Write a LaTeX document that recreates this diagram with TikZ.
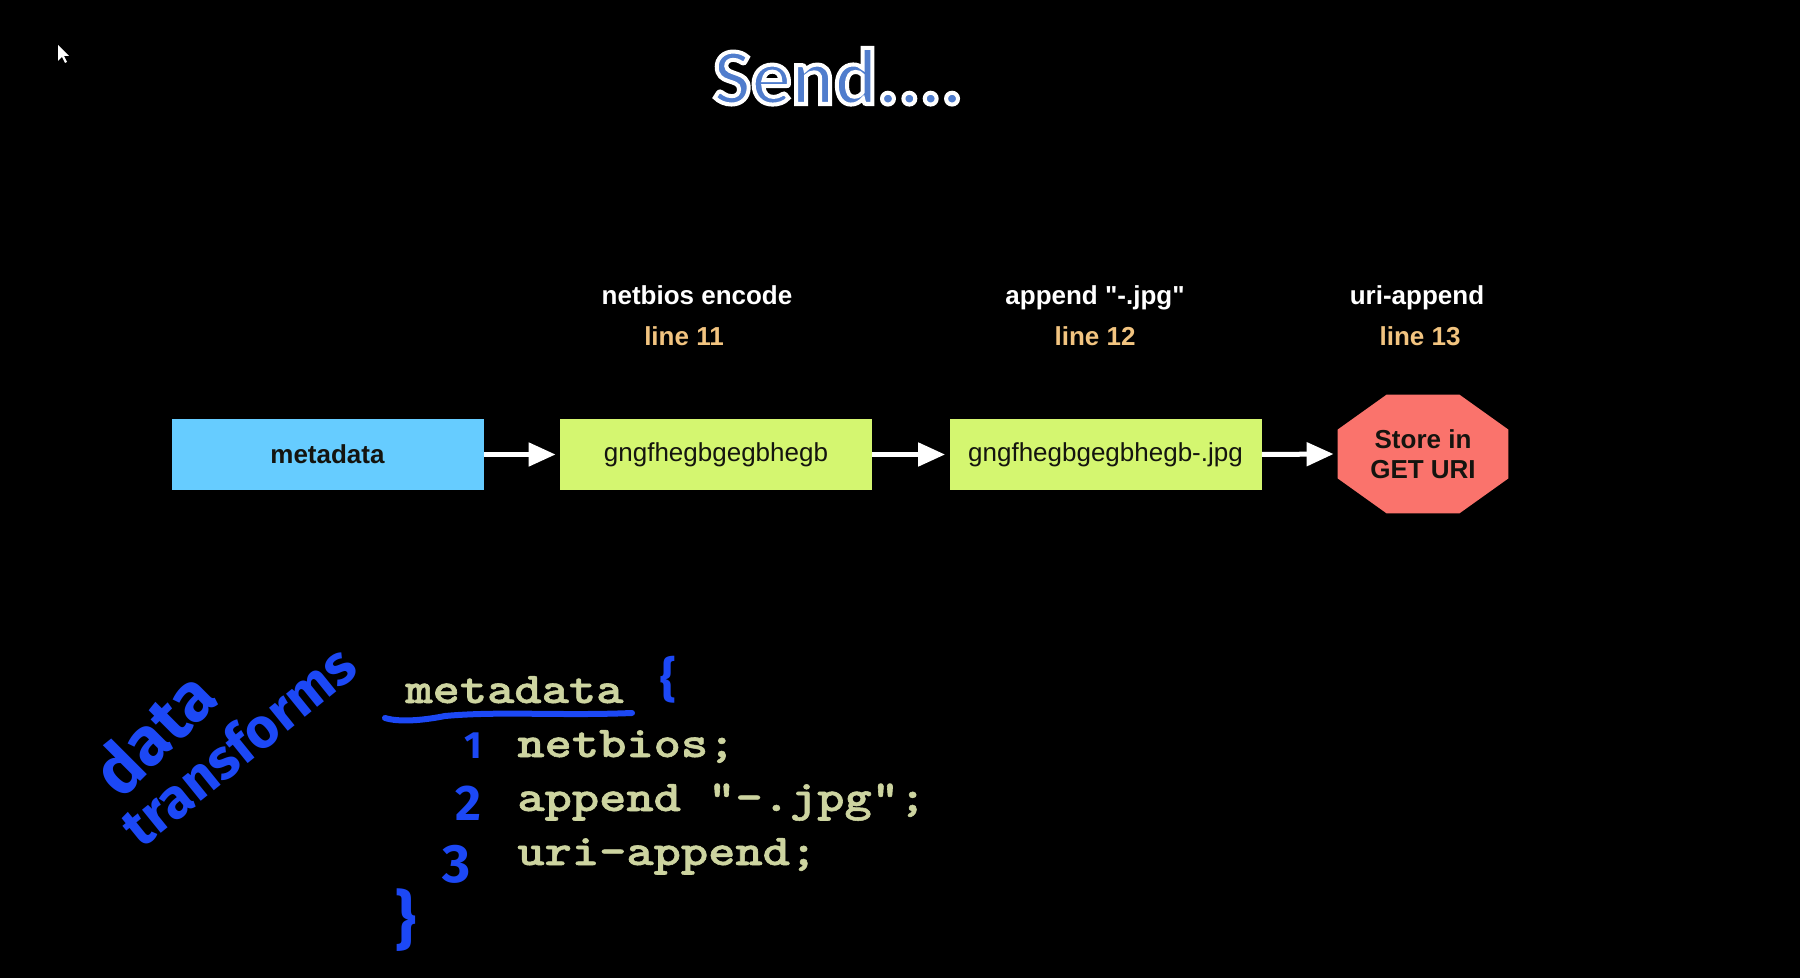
\documentclass[tikz,border=0pt]{standalone}
\usepackage{fontspec}
\usepackage{graphicx}
\setmainfont{Liberation Sans}[Ligatures=TeXOff]
\newfontfamily\titlefont{Carlito}
\newfontfamily\handfont{Fira Sans}
\newfontfamily\codefont{lmmonolt10-bold.otf}[FakeBold=1.2]
\usetikzlibrary{arrows.meta,calc}

\definecolor{metablue}{RGB}{102,204,255}
\definecolor{lime}{RGB}{212,246,112}
\definecolor{salmon}{RGB}{250,115,108}
\definecolor{lineorange}{RGB}{242,196,128}
\definecolor{codecol}{RGB}{205,212,160}
\definecolor{inkblue}{RGB}{28,72,245}
\definecolor{titleblue}{RGB}{80,125,205}
\definecolor{boxtext}{RGB}{20,20,15}

\newcommand\codewide[1]{\scalebox{1.18}[1]{#1}}
% filled glyphs with a white stroked rim
\newcommand\rimmed[1]{\special{pdf:literal direct 2 Tr 1 1 1 RG 2 w}#1\special{pdf:literal direct 0 Tr}}

\begin{document}
\begin{tikzpicture}[x=0.5pt,y=-0.5pt,
  stepbox/.style={rectangle, minimum width=156pt, minimum height=35.5pt,
    inner sep=0pt, text=boxtext, font=\fontsize{13}{15}\selectfont},
  flow/.style={draw=white, line width=2.5pt,
    -{Triangle[length=13.5pt,width=11.5pt]}, shorten >=2pt},
  heading/.style={anchor=base, inner sep=0pt, text=white,
    font=\fontsize{13}{15}\selectfont\bfseries},
  lineref/.style={anchor=base, inner sep=0pt, text=lineorange,
    font=\fontsize{13}{15}\selectfont\bfseries},
  codeline/.style={anchor=base west, inner sep=0pt, text=codecol,
    font=\codefont\fontsize{22}{26}\selectfont},
  ink/.style={inner sep=0pt, text=inkblue},
  inkline/.style={draw=inkblue, line width=3pt, line cap=round, line join=round}
]
% slide background
\fill[black] (0,0) rectangle (1800,978);

% mouse pointer
\fill[white] (58,45) -- (58,61) -- (62,57) -- (65,63) -- (67,62) -- (64,56) -- (69,56) -- cycle;

% title
\node[anchor=base, inner sep=0pt, text=titleblue, font=\titlefont\bfseries\fontsize{40}{46}\selectfont]
  (title) at (838,104) {\rimmed{Send....}};

% step headings
\node[heading] (h1) at (697,305) {netbios encode};
\node[lineref] (l1) at (684,346) {line 11};
\node[heading] (h2) at (1095,305) {append "-.jpg"};
\node[lineref] (l2) at (1095,346) {line 12};
\node[heading] (h3) at (1417,305) {uri-append};
\node[lineref] (l3) at (1420,346) {line 13};

% pipeline boxes
\node[stepbox, fill=metablue, font=\fontsize{13}{15}\selectfont\bfseries] (meta) at (327.5,454.5) {metadata};
\node[stepbox, fill=lime] (enc) at (716,454.5) {gngfhegbgegbhegb};
\node[stepbox, fill=lime] (jpg) at (1105.5,454.5) {gngfhegbgegbhegb-.jpg};

% octagonal end state
\node[minimum width=85pt, minimum height=59pt, inner sep=0pt] (store) at (1423,454) {};
\fill[salmon] ($(store.north west)+(49,0)$) -- ($(store.north east)+(-49,0)$)
  -- ($(store.north east)+(0,35)$) -- ($(store.south east)+(0,-35)$)
  -- ($(store.south east)+(-49,0)$) -- ($(store.south west)+(49,0)$)
  -- ($(store.south west)+(0,-35)$) -- ($(store.north west)+(0,35)$) -- cycle;
\node[align=center, inner sep=0pt, text=boxtext, font=\fontsize{13}{15}\selectfont\bfseries]
  (storetext) at (store.center) {Store in\\GET URI};

% flow arrows
\draw[flow] (meta.east) -- (enc.west);
\draw[flow] (enc.east) -- (jpg.west);
\draw[flow] (jpg.east) -- (store.west);

% configuration code
\node[codeline] (c0) at (405,703) {\codewide{metadata}};
\node[codeline] (c1) at (517,757) {\codewide{netbios;}};
\node[codeline] (c2) at (517,811) {\codewide{append "-.jpg";}};
\node[codeline] (c3) at (517,865) {\codewide{uri-append;}};

% hand-written notes
\node[ink, rotate=45, font=\handfont\bfseries\fontsize{34}{34}\selectfont] (w1) at (153,733) {data};
\node[ink, rotate=39, font=\handfont\bfseries\fontsize{28}{28}\selectfont] (w2) at (238,745) {transforms};
\draw[inkline] (385,718) .. controls (398,722) and (420,721) .. (445,716)
  .. controls (500,711) and (560,716) .. (632,713);
\node[ink, font=\handfont\bfseries\fontsize{24}{24}\selectfont] (ob) at (668,680) {\{};
\node[ink, font=\handfont\bfseries\fontsize{19}{19}\selectfont] (n1) at (473,746) {1};
\node[ink, font=\handfont\bfseries\fontsize{25}{25}\selectfont] (n2) at (468,803) {2};
\node[ink, font=\handfont\bfseries\fontsize{27}{27}\selectfont] (n3) at (457,864) {3};
\node[ink, font=\handfont\bfseries\fontsize{32}{32}\selectfont] (cb) at (406,920) {\}};
\end{tikzpicture}
\end{document}
